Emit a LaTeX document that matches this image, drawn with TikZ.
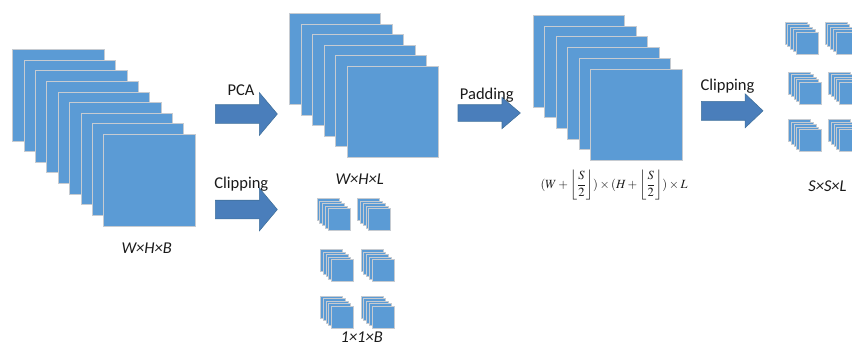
\documentclass[tikz,border=0pt]{standalone}
\usepackage{amsmath}
\usepackage{mathptmx}
\usepackage{fontspec}
\setmainfont{Carlito}
\usepackage{tikz}
\usetikzlibrary{shapes.arrows}
\definecolor{bandBlue}{HTML}{5B9BD5}
\definecolor{bandEdge}{HTML}{C6CBD1}
\definecolor{flowBlue}{HTML}{4A7EBB}
\definecolor{flowEdge}{HTML}{41719C}
\definecolor{ink}{HTML}{1A1A1A}

\begin{document}
\begin{tikzpicture}[
  x=1pt, y=-1pt,
  band/.style={draw=bandEdge, fill=bandBlue, line width=0.9pt, anchor=north west, minimum size=#1, inner sep=0pt},
  flow/.style={single arrow, draw=flowEdge, fill=flowBlue, line width=0.6pt, inner xsep=0pt, anchor=tail, single arrow head indent=0pt},
  lbl/.style={font=\fontsize{16.5}{18}\selectfont, text=ink, anchor=base, inner sep=0pt},
  dim/.style={font=\fontsize{16.5}{18}\selectfont\itshape, text=ink, anchor=base, inner sep=0pt},
  patch/.pic={
    \foreach \k in {0,...,4}
      \node[band=22pt, line width=0.6pt] (-p\k) at (2.75*\k,2.5*\k) {};
  }
]
\useasboundingbox (0,0) rectangle (852,346);

% ------------------------------------------------------------------
% Input cube: W x H x B
% ------------------------------------------------------------------
\foreach \i in {0,...,8}
  \node[band=91.5pt] (hsi\i) at (12.3+11.375*\i,49+10.625*\i) {};
\node[dim] (hsisize) at (146.7,253.3) {W×H×B};

% ------------------------------------------------------------------
% PCA and clipping of the input
% ------------------------------------------------------------------
\node[flow, inner ysep=9pt, single arrow head extend=12pt, minimum height=62pt, single arrow tip angle=100] (pca) at (215,114) {};
\node[lbl] (pcalbl) at (241,95.6) {PCA};
\node[flow, inner ysep=9pt, single arrow head extend=12pt, minimum height=62pt, single arrow tip angle=100] (clipa) at (215,209.5) {};
\node[lbl] (clipalbl) at (241.3,188.3) {Clipping};

% reduced cube: W x H x L
\foreach \i in {0,...,5}
  \node[band=91pt] (red\i) at (289.3+11.5*\i,13.3+10.5*\i) {};
\node[dim] (redsize) at (359.7,184.3) {W×H×L};

% pixel patches: 1 x 1 x B
\pic (pa) at (316.7,198.3) {patch};
\pic (pb) at (357.3,198.3) {patch};
\pic (pc) at (320,249) {patch};
\pic (pd) at (360.7,249) {patch};
\pic (pe) at (320,295.7) {patch};
\pic (pf) at (360.7,295.7) {patch};
\node[dim] (pixsize) at (361.7,342) {1×1×B};

% ------------------------------------------------------------------
% Padding
% ------------------------------------------------------------------
\node[flow, inner ysep=8pt, single arrow head extend=7.3pt, minimum height=62.3pt, single arrow tip angle=81] (pad) at (457.7,113) {};
\node[lbl] (padlbl) at (486.8,99) {Padding};

\foreach \i in {0,...,5}
  \node[band=91.5pt] (padded\i) at (532.7+11.5*\i,15+10.7*\i) {};
\node[font=\fontsize{12.5}{14}\selectfont, text=ink] (padsize) at (614,185)
  {$(W+\left\lfloor\dfrac{S}{2}\right\rfloor)\times(H+\left\lfloor\dfrac{S}{2}\right\rfloor)\times L$};

% ------------------------------------------------------------------
% Clipping into S x S x L patches
% ------------------------------------------------------------------
\node[flow, inner ysep=9.15pt, single arrow head extend=7.5pt, minimum height=61.7pt, single arrow tip angle=87] (clipb) at (701,110.8) {};
\node[lbl] (clipblbl) at (727.5,90) {Clipping};

\pic (qa) at (784.7,21.7) {patch};
\pic (qb) at (824.7,21.7) {patch};
\pic (qc) at (788,71.7) {patch};
\pic (qd) at (828,71.7) {patch};
\pic (qe) at (788,119.3) {patch};
\pic (qf) at (828,119.3) {patch};
\node[dim] (cubesize) at (827.5,191.7) {S×S×L};

\end{tikzpicture}
\end{document}
